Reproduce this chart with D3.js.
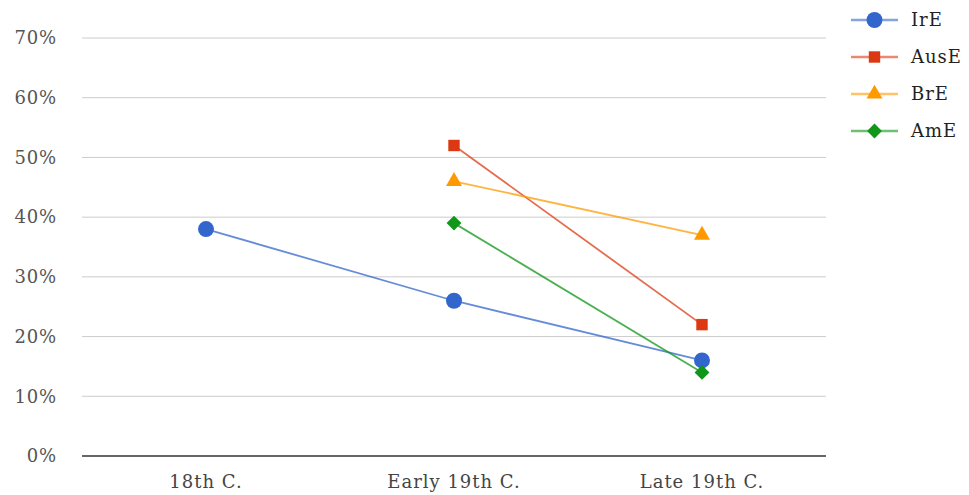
<!DOCTYPE html>
<html>
<head>
<meta charset="utf-8">
<script src="https://cdn.jsdelivr.net/npm/d3@7"></script>
<style>
  html, body { margin: 0; padding: 0; background: #fff; }
  svg { display: block; font-family: "DejaVu Serif", "Liberation Serif", Georgia, serif; }
</style>
</head>
<body>
<svg id="chart" width="969" height="495"></svg>
<script>
// Periods along the x axis
const periods = ["18th C.", "Early 19th C.", "Late 19th C."];

// Share per variety (percent); null where no figure exists
const irE  = [38, 26, 16];
const ausE = [null, 52, 22];
const brE  = [null, 46, 37];
const amE  = [null, 39, 14];

const yTicks = [0, 10, 20, 30, 40, 50, 60, 70];

const series = [
  { name: "IrE",  values: irE,  color: "#3366cc", shape: d3.symbolCircle,   size: 200, rot: 0 },
  { name: "AusE", values: ausE, color: "#dc3912", shape: d3.symbolSquare,   size: 130, rot: 0 },
  { name: "BrE",  values: brE,  color: "#ff9900", shape: d3.symbolTriangle, size: 110, rot: 0 },
  { name: "AmE",  values: amE,  color: "#109618", shape: d3.symbolSquare,   size: 110, rot: 45 }
];

const svg = d3.select("#chart");
const plotLeft = 82, plotRight = 826, plotTop = 38, plotBottom = 456;

const x = d3.scaleBand().domain(periods).range([plotLeft, plotRight]);
const y = d3.scaleLinear().domain([0, 70]).range([plotBottom, plotTop]);

// Horizontal gridlines
svg.append("g").selectAll("line")
  .data(yTicks.filter(t => t > 0))
  .join("line")
  .attr("x1", plotLeft).attr("x2", plotRight)
  .attr("y1", d => y(d)).attr("y2", d => y(d))
  .attr("stroke", "#cccccc").attr("stroke-width", 1);

// Y axis labels
const yAxis = d3.axisLeft(y).tickValues(yTicks).tickSize(0).tickPadding(0)
  .tickFormat(d => d + "%");
svg.append("g").attr("transform", `translate(${57},0)`).call(yAxis)
  .call(g => g.select(".domain").remove())
  .call(g => g.selectAll("text")
    .attr("fill", "#555").attr("font-size", 18)
    .attr("letter-spacing", 0.8)
    .attr("font-family", "DejaVu Serif, serif"));

// Baseline
svg.append("line")
  .attr("x1", plotLeft).attr("x2", plotRight)
  .attr("y1", y(0)).attr("y2", y(0))
  .attr("stroke", "#333").attr("stroke-width", 1.5);

// X axis labels
const xAxis = d3.axisBottom(x).tickSize(0).tickPadding(0);
svg.append("g").attr("transform", `translate(0,${plotBottom + 26})`).call(xAxis)
  .call(g => g.select(".domain").remove())
  .call(g => g.selectAll("text")
    .attr("fill", "#444").attr("font-size", 18)
    .attr("letter-spacing", 1)
    .attr("font-family", "DejaVu Serif, serif")
    .attr("dy", "0.35em"));

const cx = p => x(p) + x.bandwidth() / 2;

// Lines and markers per series
series.forEach(s => {
  const pts = periods.map((p, i) => ({ p, v: s.values[i] })).filter(d => d.v !== null);
  const line = d3.line().x(d => cx(d.p)).y(d => y(d.v));
  svg.append("path")
    .attr("d", line(pts))
    .attr("fill", "none")
    .attr("stroke", s.color)
    .attr("stroke-opacity", 0.75)
    .attr("stroke-width", 1.8);
  svg.append("g").selectAll("path")
    .data(pts)
    .join("path")
    .attr("transform", d => `translate(${cx(d.p)},${y(d.v)}) rotate(${s.rot})`)
    .attr("d", d3.symbol().type(s.shape).size(s.size))
    .attr("fill", s.color);
});

// Legend
const legend = svg.append("g");
series.forEach((s, i) => {
  const ly = 20 + i * 37;
  legend.append("line")
    .attr("x1", 851).attr("x2", 898).attr("y1", ly).attr("y2", ly)
    .attr("stroke", s.color).attr("stroke-opacity", 0.6).attr("stroke-width", 2.5);
  legend.append("path")
    .attr("transform", `translate(874.5,${ly}) rotate(${s.rot})`)
    .attr("d", d3.symbol().type(s.shape).size(s.size))
    .attr("fill", s.color);
  legend.append("text")
    .attr("x", 911).attr("y", ly).attr("dy", "0.35em")
    .attr("fill", "#222").attr("font-size", 18)
    .attr("letter-spacing", 1)
    .text(s.name);
});
</script>
</body>
</html>
